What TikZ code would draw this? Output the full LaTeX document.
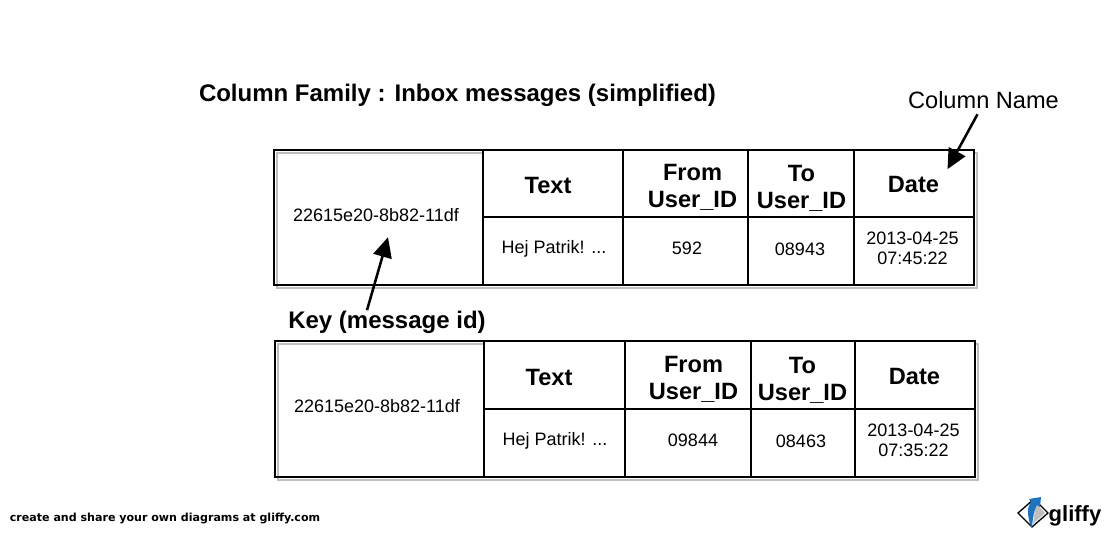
\documentclass[tikz,border=0pt]{standalone}
\usepackage{fontspec}
\setmainfont{Liberation Sans}
\newfontfamily\footfont{DejaVu Sans}
\usetikzlibrary{arrows.meta}
\definecolor{shadowgray}{RGB}{190,190,190}
\definecolor{logoblue}{RGB}{30,115,190}
\tikzset{
  head/.style={font=\fontsize{17.7}{20.2}\selectfont\bfseries,align=center,inner sep=1pt},
  cell/.style={font=\fontsize{13.5}{15.2}\selectfont,align=center,inner sep=1pt},
  note/.style={font=\fontsize{18}{20}\selectfont\bfseries,inner sep=1pt},
  pointer/.style={line width=1.9pt,-{Triangle[length=15pt,width=14pt]}},
  tbl/.style={line width=1.5pt},
  back/.style={shadowgray,line width=0.8pt}
}
\begin{document}
\begin{tikzpicture}[x=0.75pt,y=-0.75pt]
        \useasboundingbox (0,0) rectangle (1108,533);

        % title
        \draw (457.5,95) node[note] (title) {Column Family : Inbox messages (simplified)};
        \draw (983.5,100) node[cell,font=\fontsize{17.7}{20}\selectfont] (colname) {Column Name};

        % first row
        \draw[back] (277,153) rectangle (977,288);
        \draw[tbl,fill=white] (483,150) rectangle (974,285);
        \draw[tbl] (274,150) rectangle (974,285);
        \draw[tbl] (623,150) -- (623,285);
        \draw[tbl] (748,150) -- (748,285);
        \draw[tbl] (854,150) -- (854,285);
        \draw[tbl] (483,217) -- (974,217);
        \draw (376,215) node[cell] (keyA) {22615e20-8b82-11df};
        \draw (548,185) node[head] (textA) {Text};
        \draw (692.5,187) node[head] (fromA) {From\\User\_ID};
        \draw (801.5,188) node[head] (toA) {To\\User\_ID};
        \draw (913.5,184) node[head] (dateA) {Date};
        \draw (554,249) node[cell] (msgA) {Hej Patrik! ...};
        \draw (687,248) node[cell] (fromvalA) {592};
        \draw (800,249) node[cell] (tovalA) {08943};
        \draw (912.5,248) node[cell] (stampA) {2013-04-25\\07:45:22};

        % second row
        \draw[back] (278,344) rectangle (978,480);
        \draw[tbl,fill=white] (484,341) rectangle (975,477);
        \draw[tbl] (275,341) rectangle (975,477);
        \draw[tbl] (625,341) -- (625,477);
        \draw[tbl] (751,341) -- (751,477);
        \draw[tbl] (855,341) -- (855,477);
        \draw[tbl] (484,409) -- (975,409);
        \draw (377,406) node[cell] (keyB) {22615e20-8b82-11df};
        \draw (549,377) node[head] (textB) {Text};
        \draw (693.5,379) node[head] (fromB) {From\\User\_ID};
        \draw (802.5,380) node[head] (toB) {To\\User\_ID};
        \draw (914.5,376) node[head] (dateB) {Date};
        \draw (555,441) node[cell] (msgB) {Hej Patrik! ...};
        \draw (693,440) node[cell] (fromvalB) {09844};
        \draw (801,441) node[cell] (tovalB) {08463};
        \draw (913.5,440) node[cell] (stampB) {2013-04-25\\07:35:22};

        % pointers
        \draw (387,322) node[note] (keylabel) {Key (message id)};
        \draw[pointer] ([shift={(-20,1)}]keylabel.north) -- ([shift={(12,14)}]keyA.south);
        \draw[pointer] ([shift={(-6,4)}]colname.south) -- ([shift={(34,-5)}]dateA.north);

        % footer
        \draw (165,518) node[inner sep=0pt,font=\footfont\fontsize{8.3}{9}\selectfont\bfseries] (foot) {create and share your own diagrams at gliffy.com};
        \fill[white,draw=black,line width=1pt] (1018,513) -- (1034,499) -- (1048,513) -- (1032,527) -- cycle;
        \fill[shadowgray] (1036,503) -- (1045,513) -- (1033,524) -- cycle;
        \fill[logoblue] (1031,527) .. controls (1027,515) and (1027,507) .. (1031,502) -- (1029,499) -- (1041,497) -- (1040,507) -- (1037,505) .. controls (1034,510) and (1033,517) .. (1032,527) -- cycle;
        \draw (1075,516) node[inner sep=0pt,font=\fontsize{16.5}{20}\selectfont\bfseries] (logo) {gliffy};
\end{tikzpicture}
\end{document}
